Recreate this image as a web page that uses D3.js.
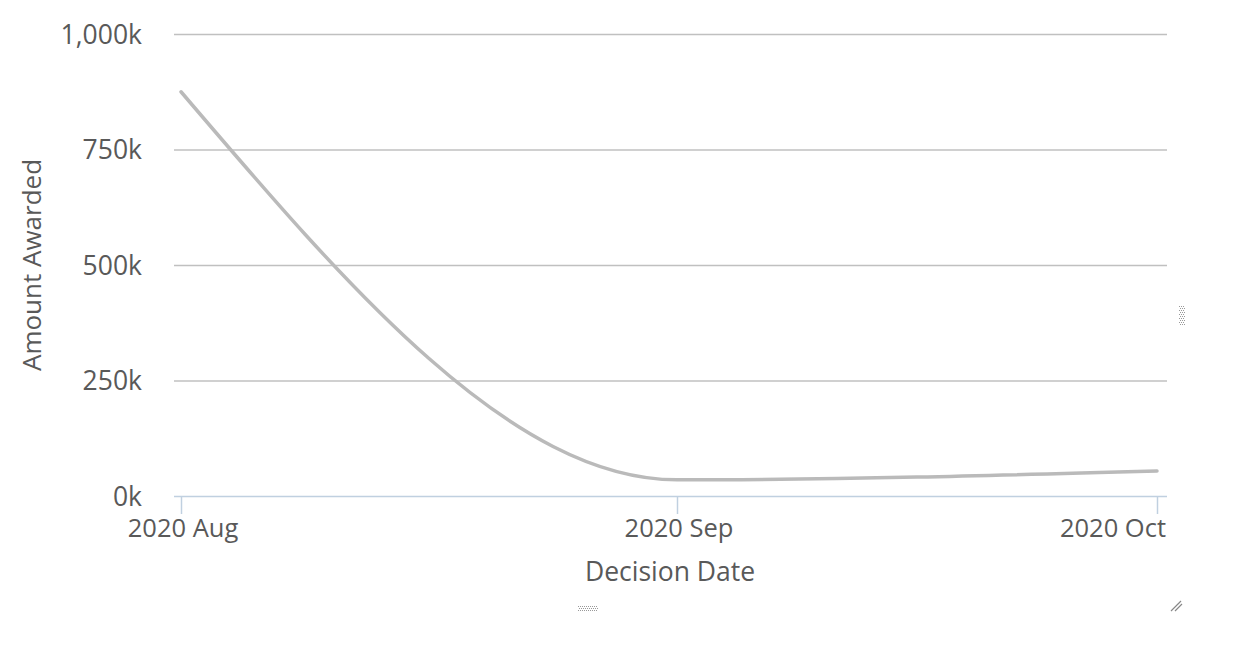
<!DOCTYPE html>
<html><head><meta charset="utf-8">
<script src="https://cdn.jsdelivr.net/npm/d3@7/dist/d3.min.js"></script>
<style>
body{margin:0;background:#fff;}
text{font-family:"Open Sans",sans-serif;fill:#595959;}
</style></head>
<body>
<svg id="c" width="1235" height="646"></svg>
<script>
const dates = ["2020-08-01","2020-09-01","2020-10-01"];
const amounts = [875000, 35000, 54000];
const yTicks = [0, 250000, 500000, 750000, 1000000];
const xTickLabels = ["2020 Aug","2020 Sep","2020 Oct"];
const xTitle = "Decision Date";
const yTitle = "Amount Awarded";

(function(){
const parse = d3.timeParse("%Y-%m-%d");
const data = dates.map((d,i)=>({date:parse(d), v:amounts[i]}));
const svg = d3.select("#c");
const pL=174, pR=1167, pT=34, pB=496;
const x = d3.scaleTime().domain([parse("2020-08-01"), parse("2020-10-01")]).range([181,1157]);
const y = d3.scaleLinear().domain([0,1000000]).range([pB, pT]);

// grid
svg.append("g").selectAll("line").data(yTicks.filter(t=>t>0)).join("line")
  .attr("x1",pL).attr("x2",pR).attr("y1",d=>y(d)+0.5).attr("y2",d=>y(d)+0.5)
  .attr("stroke","#c0c0c0").attr("stroke-width",1.5);

// y labels
svg.append("g").selectAll("text").data(yTicks).join("text")
  .attr("x",142).attr("y",d=>y(d)+9.5).attr("text-anchor","end")
  .style("font-size","26.5px")
  .text(d=>d3.format(",")(d/1000)+"k");

// x axis line
svg.append("line").attr("x1",pL).attr("x2",pR).attr("y1",pB+0.5).attr("y2",pB+0.5)
  .attr("stroke","#c0d0e0").attr("stroke-width",1.5);
const xt = data.map(d=>d.date);
svg.append("g").selectAll("line").data(xt).join("line")
  .attr("x1",d=>x(d)+0.5).attr("x2",d=>x(d)+0.5).attr("y1",pB).attr("y2",pB+18)
  .attr("stroke","#c0d0e0").attr("stroke-width",1.5);
const anchors=["middle","middle","end"];
svg.append("g").selectAll("text").data(xt).join("text")
  .attr("x",(d,i)=>{const b=x(d); return i===2?b+9:b+2;})
  .attr("y",537).attr("text-anchor",(d,i)=>anchors[i])
  .style("font-size","25.5px")
  .text((d,i)=>xTickLabels[i]);

// titles
svg.append("text").attr("x",670).attr("y",581).attr("text-anchor","middle").style("font-size","26.5px").text(xTitle);
svg.append("text").attr("transform","translate(41,265) rotate(-90)").attr("text-anchor","middle").style("font-size","26px").text(yTitle);

// line
const line = d3.line().x(d=>x(d.date)).y(d=>y(d.v)).curve(d3.curveMonotoneX);
svg.append("path").datum(data).attr("d",line).attr("fill","none")
  .attr("stroke","#bababa").attr("stroke-width",3.5).attr("stroke-linecap","round");

// resize grips
function grip(gx,gy,w,h){
  const g=svg.append("g");
  for(let i=0;i<w;i+=2)for(let j=0;j<h;j+=2){
    g.append("rect").attr("x",gx+i+((j/2)%2)).attr("y",gy+j).attr("width",1).attr("height",1).attr("fill","#999");
  }
}
grip(1179,306,5,20);
grip(578,606,20,5);
svg.append("path").attr("d","M1171,611 L1181,601 M1175,611 L1182,604").attr("stroke","#888").attr("stroke-width",1.2);
})();
</script>
</body></html>
